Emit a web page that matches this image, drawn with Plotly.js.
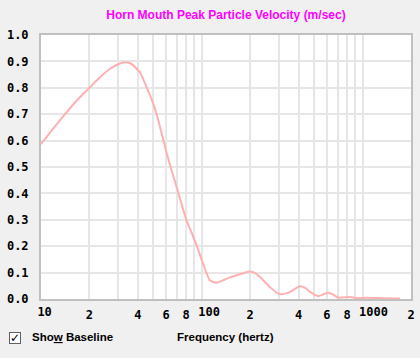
<!DOCTYPE html>
<html><head><meta charset="utf-8">
<script src="https://cdn.plot.ly/plotly-3.0.1.min.js"></script>
<style>html,body{margin:0;padding:0;background:#f0f0f0;}#chart{width:420px;height:358px;}</style>
</head><body><div id="chart"></div>
<script>
const freqs = [10, 11.9, 14.1, 16.7, 20, 23.3, 26.9, 31, 33.5, 35.8, 37.5, 39.4, 41.3, 45.4, 49.9, 52.9, 56.3, 61.9, 70, 80.5, 90.7, 102, 112.5, 123.8, 135, 149.7, 175, 199.5, 215, 230, 265.5, 295, 314, 354, 408, 440, 471, 530, 570, 612, 650, 706, 835, 919, 1061, 1340, 1710];
const velocity = [0.587, 0.645, 0.70, 0.752, 0.80, 0.84, 0.872, 0.892, 0.897, 0.893, 0.885, 0.872, 0.858, 0.802, 0.74, 0.69, 0.627, 0.53, 0.42, 0.297, 0.22, 0.133, 0.07, 0.062, 0.07, 0.082, 0.095, 0.104, 0.098, 0.083, 0.045, 0.022, 0.018, 0.027, 0.048, 0.042, 0.027, 0.011, 0.018, 0.024, 0.018, 0.005, 0.008, 0.003, 0.005, 0.003, 0.002];
// gridline positions and minor (digit) labels
const xTickVals = [10,20,30,40,50,60,70,80,90,100,200,300,400,500,600,700,800,900,1000,2000];
const xTickText = ["","2","","4","","6","","8","","","2","","4","","6","","8","","","2"];
// decade labels (drawn with first digit centred on the gridline)
const decadeVals = [10, 100, 1000];
const decadeText = ["10", "100", "1000"];
const yTickVals = [0,0.1,0.2,0.3,0.4,0.5,0.6,0.7,0.8,0.9,1.0];

const tickFont = {family: "DejaVu Sans Mono", size: 12, color: "#000", weight: "bold"};
const uiFont = {family: "Liberation Sans", size: 11.5, color: "#000"};
const xRange = [1, Math.log10(2000)];
const plotW = 370;
const pxPerDecade = plotW / (xRange[1] - xRange[0]);
const charW = 7.22;

function decadeAxis(i) {
  const n = decadeText[i].length;
  const d = ((n - 1) * charW / 2) / pxPerDecade;
  return {
    type: "log", range: [xRange[0] - d, xRange[1] - d], overlaying: "x", anchor: "y", side: "bottom",
    tickmode: "array", tickvals: [decadeVals[i]], ticktext: [decadeText[i]], tickangle: 0,
    showgrid: false, showline: false, zeroline: false, ticks: "",
    tickfont: tickFont, ticklabelstandoff: 4, fixedrange: true
  };
}

const traces = [{
  x: freqs, y: velocity, type: "scatter", mode: "lines",
  line: {color: "#ffb0b0", width: 2, shape: "spline", smoothing: 0.6},
  hoverinfo: "skip"
}];
["x2","x3","x4"].forEach(ax => traces.push({x: [10, 2000], y: [null, null], xaxis: ax, yaxis: "y", mode: "lines", showlegend: false, hoverinfo: "skip"}));

Plotly.newPlot("chart", traces, {
  width: 420, height: 358,
  paper_bgcolor: "#f0f0f0", plot_bgcolor: "#ffffff",
  margin: {l: 41, r: 9, t: 35, b: 59},
  showlegend: false,
  title: {text: "<b>Horn Mouth Peak Particle Velocity (m/sec)</b>", font: {family: "Liberation Sans", size: 12, color: "#ff00ff"}, x: 0.538, xanchor: "center", y: 0.958, yanchor: "middle"},
  xaxis: {
    type: "log", range: xRange,
    tickmode: "array", tickvals: xTickVals, ticktext: xTickText, tickangle: 0,
    showgrid: true, gridcolor: "#e6e6e6", gridwidth: 2,
    showline: true, linecolor: "#c0c0c0", linewidth: 2, mirror: true,
    ticks: "", tickfont: tickFont, ticklabelstandoff: 4, zeroline: false, fixedrange: true
  },
  xaxis2: decadeAxis(0),
  xaxis3: decadeAxis(1),
  xaxis4: decadeAxis(2),
  yaxis: {
    range: [0, 1], tickmode: "array", tickvals: yTickVals, tickformat: ".1f",
    showgrid: true, gridcolor: "#e6e6e6", gridwidth: 2,
    showline: true, linecolor: "#c0c0c0", linewidth: 2, mirror: true,
    ticks: "", tickfont: tickFont, ticklabelstandoff: 8, zeroline: false, fixedrange: true
  },
  annotations: [
    {text: "<b>✓</b>", xref: "paper", yref: "paper", x: 0, y: 0, xshift: -26.5, yshift: -39,
     xanchor: "center", yanchor: "middle", showarrow: false, width: 10, height: 10,
     bgcolor: "#ffffff", bordercolor: "#606060", borderwidth: 1, borderpad: 0,
     font: {family: "DejaVu Sans", size: 12, color: "#000"}},
    {text: "<b>Sho<span style='text-decoration:underline'>w</span> Baseline</b>", xref: "paper", yref: "paper", x: 0, y: 0,
     xshift: -11, yshift: -38, xanchor: "left", yanchor: "middle", showarrow: false, font: uiFont},
    {text: "<b>Frequency (hertz)</b>", xref: "paper", yref: "paper", x: 0, y: 0,
     xshift: 134, yshift: -38, xanchor: "left", yanchor: "middle", showarrow: false, font: uiFont}
  ]
}, {staticPlot: true});
</script></body></html>
